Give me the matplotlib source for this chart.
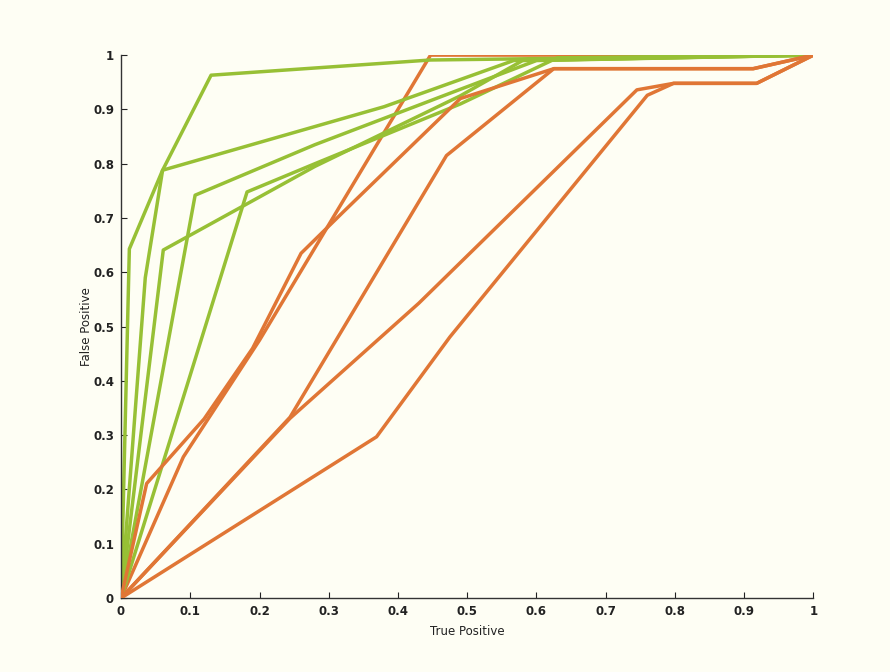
import matplotlib
matplotlib.use("Agg")
import matplotlib.pyplot as plt
import numpy as np

# ROC-style curves (x = True Positive, y = False Positive)
green_curves = [
    ([0.0, 0.012, 0.06, 0.13, 0.447, 1.0],
     [0.0, 0.643, 0.788, 0.963, 0.991, 1.0]),
    ([0.0, 0.035, 0.06, 0.38, 0.567, 1.0],
     [0.0, 0.59, 0.788, 0.905, 0.99, 1.0]),
    ([0.0, 0.061, 0.28, 0.49, 0.58, 1.0],
     [0.0, 0.641, 0.795, 0.925, 0.99, 1.0]),
    ([0.0, 0.107, 0.28, 0.49, 0.60, 1.0],
     [0.0, 0.742, 0.835, 0.937, 0.99, 1.0]),
    ([0.0, 0.182, 0.28, 0.49, 0.63, 1.0],
     [0.0, 0.748, 0.80, 0.91, 0.995, 1.0]),
]

orange_back = [
    ([0.0, 0.09, 0.20, 0.447, 1.0],
     [0.0, 0.26, 0.475, 1.0, 1.0]),
]

orange_curves = [
    ([0.0, 0.037, 0.12, 0.19, 0.26, 0.32, 0.49, 0.625, 0.913, 1.0],
     [0.0, 0.211, 0.33, 0.46, 0.635, 0.71, 0.92, 0.975, 0.975, 1.0]),
    ([0.0, 0.244, 0.47, 0.625, 0.913, 1.0],
     [0.0, 0.333, 0.815, 0.975, 0.975, 1.0]),
    ([0.0, 0.244, 0.43, 0.745, 0.798, 0.918, 1.0],
     [0.0, 0.331, 0.543, 0.936, 0.948, 0.948, 1.0]),
    ([0.0, 0.369, 0.475, 0.76, 0.798, 0.918, 1.0],
     [0.0, 0.297, 0.481, 0.926, 0.948, 0.948, 1.0]),
]

ticks = [0, 0.1, 0.2, 0.3, 0.4, 0.5, 0.6, 0.7, 0.8, 0.9, 1]
tick_labels = ["0", "0.1", "0.2", "0.3", "0.4", "0.5", "0.6", "0.7", "0.8", "0.9", "1"]

BG = "#fefef4"
GREEN = "#97c035"
ORANGE = "#e07635"

fig = plt.figure(figsize=(8.9, 6.72), dpi=100, facecolor=BG)
ax = fig.add_axes([0.136, 0.110, 0.778, 0.808])
ax.set_facecolor(BG)

for xs, ys in orange_back:
    ax.plot(xs, ys, color=ORANGE, lw=2.5, zorder=1, solid_joinstyle="round")
for xs, ys in green_curves:
    ax.plot(xs, ys, color=GREEN, lw=2.5, zorder=2, solid_joinstyle="round")
for xs, ys in orange_curves:
    ax.plot(xs, ys, color=ORANGE, lw=2.5, zorder=3, solid_joinstyle="round")

ax.set_xlim(0, 1)
ax.set_ylim(0, 1)
ax.set_xticks(ticks)
ax.set_xticklabels(tick_labels)
ax.set_yticks(ticks)
ax.set_yticklabels(tick_labels)
ax.tick_params(direction="in", length=4, labelsize=8.5, colors="#222222", pad=5)
for lab in ax.get_xticklabels() + ax.get_yticklabels():
    lab.set_fontweight("bold")
ax.spines["top"].set_visible(False)
ax.spines["right"].set_visible(False)
for s in ("left", "bottom"):
    ax.spines[s].set_color("#333333")
    ax.spines[s].set_linewidth(1.0)

ax.set_xlabel("True Positive", fontsize=8.5, color="#222222", labelpad=5)
ax.set_ylabel("False Positive", fontsize=8.5, color="#222222", labelpad=0)

fig.savefig("out.png", dpi=100, facecolor=BG)
